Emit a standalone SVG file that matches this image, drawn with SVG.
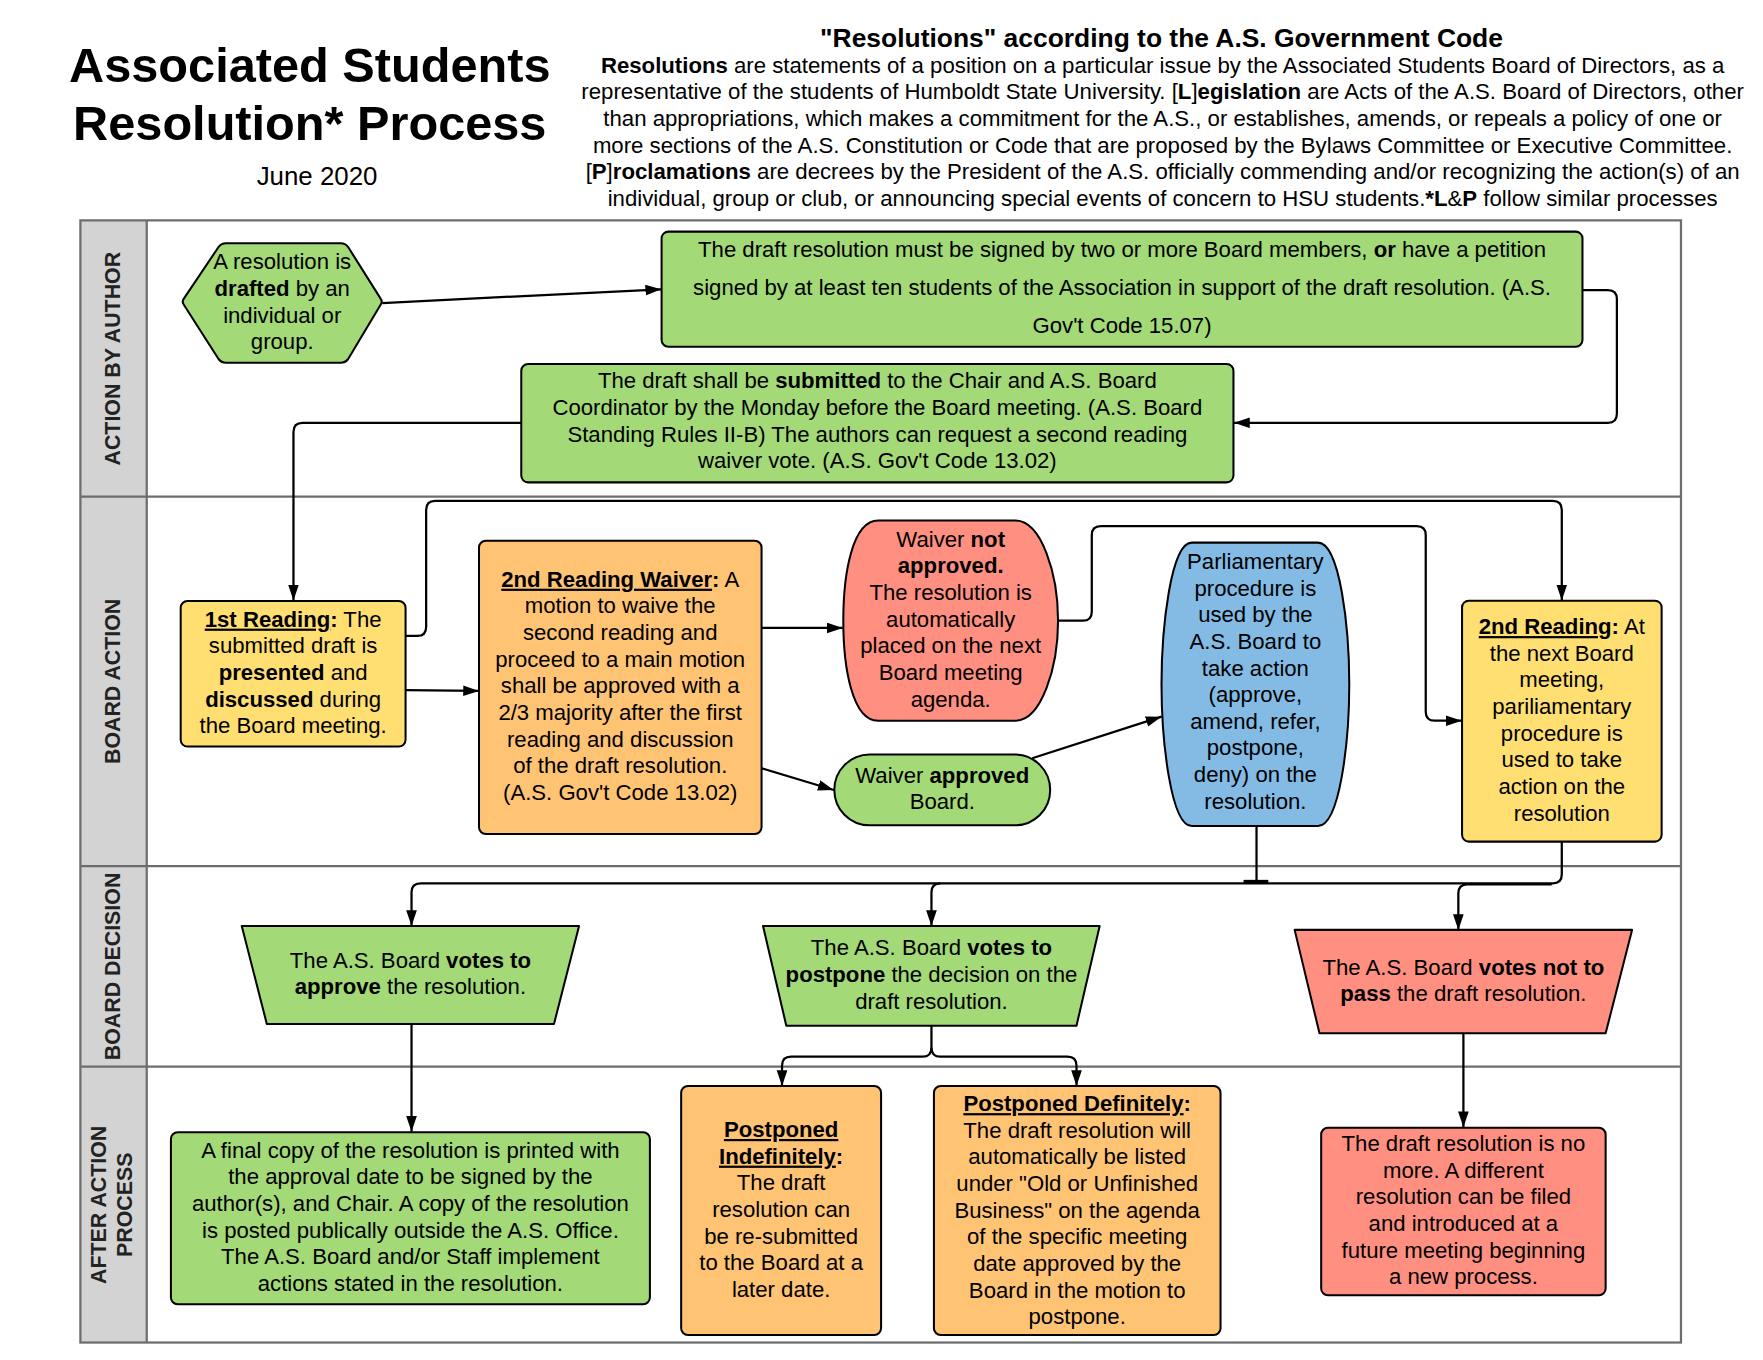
<svg xmlns="http://www.w3.org/2000/svg" width="1763" height="1360" viewBox="0 0 1763 1360">
<style>
  text { font-family: "Liberation Sans", Arial, sans-serif; fill: #000; text-anchor: middle; }
  .t { font-size: 19.7px; }
  .p { font-size: 19.75px; }
  .b { font-weight: bold; }
  .u { text-decoration: underline; }
  .lane { font-size: 19px; font-weight: bold; fill: #222; }
  .shape { stroke: #000; stroke-width: 1.8; stroke-linejoin: round; }
  .green { fill: #A3D977; }
  .yellow { fill: #FFDF71; }
  .orange { fill: #FFC374; }
  .red { fill: #FF8F80; }
  .blue { fill: #83BBE5; }
  .conn { fill: none; stroke: #000; stroke-width: 2; }
  .arr { marker-end: url(#ah); }
  .frame { fill: none; stroke: #6d6d6d; stroke-width: 2; }
</style>
<defs>
  <marker id="ah" markerUnits="userSpaceOnUse" markerWidth="15" markerHeight="10" refX="14" refY="4.75" orient="auto">
    <path d="M0,0 L14,4.75 L0,9.5 Z" fill="#000"/>
  </marker>
</defs>
<rect width="1763" height="1360" fill="#fff"/>
<g transform="scale(1.1244)">
  <!-- Header -->
  <g id="title">
    <text class="b" x="275.5" y="72.6" style="font-size:43.3px">Associated Students</text>
    <text class="b" x="275.5" y="124.5" style="font-size:43.3px">Resolution* Process</text>
    <text x="282" y="164.5" style="font-size:23px">June 2020</text>
  </g>
  <g id="definition">
    <text class="b" x="1033" y="41.5" style="font-size:23.5px">"Resolutions" according to the A.S. Government Code</text>
    <text class="p" x="1034" y="64.6"><tspan class="b">Resolutions</tspan> are statements of a position on a particular issue by the Associated Students Board of Directors, as a</text>
    <text class="p" x="1034" y="88.3">representative of the students of Humboldt State University. [<tspan class="b">L</tspan>]<tspan class="b">egislation</tspan> are Acts of the A.S. Board of Directors, other</text>
    <text class="p" x="1034" y="112">than appropriations, which makes a commitment for the A.S., or establishes, amends, or repeals a policy of one or</text>
    <text class="p" x="1034" y="135.7">more sections of the A.S. Constitution or Code that are proposed by the Bylaws Committee or Executive Committee.</text>
    <text class="p" x="1034" y="159.4">[<tspan class="b">P</tspan>]<tspan class="b">roclamations</tspan> are decrees by the President of the A.S. officially commending and/or recognizing the action(s) of an</text>
    <text class="p" x="1034" y="183.1">individual, group or club, or announcing special events of concern to HSU students.<tspan class="b">*L</tspan>&amp;<tspan class="b">P</tspan> follow similar processes</text>
  </g>

  <!-- Swimlanes -->
  <g id="lanes">
    <rect x="71.5" y="196" width="59" height="998" fill="#D3D3D3"/>
    <rect class="frame" x="71.5" y="196" width="1423.5" height="998"/>
    <line class="frame" x1="130.5" y1="196" x2="130.5" y2="1194"/>
    <line class="frame" x1="71.5" y1="441.7" x2="1495" y2="441.7"/>
    <line class="frame" x1="71.5" y1="770.2" x2="1495" y2="770.2"/>
    <line class="frame" x1="71.5" y1="948.6" x2="1495" y2="948.6"/>
    <text class="lane" transform="translate(106.7,319) rotate(-90)">ACTION BY AUTHOR</text>
    <text class="lane" transform="translate(106.7,606) rotate(-90)">BOARD ACTION</text>
    <text class="lane" transform="translate(106.7,859.5) rotate(-90)">BOARD DECISION</text>
    <text class="lane" transform="translate(94,1071.5) rotate(-90)">AFTER ACTION</text>
    <text class="lane" transform="translate(117,1071.5) rotate(-90)">PROCESS</text>
  </g>

  <!-- Connectors -->
  <g id="connectors">
    <path class="conn arr" d="M340 269.5 L588 257.3"/>
    <path class="conn arr" d="M1407 258 H1430 Q1438 258 1438 266 V368 Q1438 376 1430 376 H1097.5"/>
    <path class="conn arr" d="M463.6 376 H269 Q261 376 261 384 V534"/>
    <path class="conn arr" d="M360.7 565.6 H371 Q379 565.6 379 557.6 V453.5 Q379 445.5 387 445.5 H1381 Q1389 445.5 1389 453.5 V534"/>
    <path class="conn arr" d="M360.7 613.7 L426 614.5"/>
    <path class="conn arr" d="M677.3 558.5 H749.5"/>
    <path class="conn arr" d="M677.3 683.3 L741.5 702.6"/>
    <path class="conn arr" d="M941 552 H963 Q971 552 971 544 V476 Q971 468 979 468 H1260 Q1268 468 1268 476 V633 Q1268 641 1276 641 H1300"/>
    <path class="conn arr" d="M918 674.4 L1033 637.4"/>
    <path class="conn" d="M1117.5 734.7 V785.6"/>
    <path class="conn" d="M1106 784 H1128" style="stroke-width:3"/>
    <path class="conn arr" d="M1389 748.5 V777.6 Q1389 785.6 1381 785.6 H374 Q366 785.6 366 793.6 V823.6"/>
    <path class="conn arr" d="M836.4 785.6 Q828.4 785.6 828.4 793.6 V823.6"/>
    <path class="conn arr" d="M1380 786.5 H1305 Q1297 786.5 1297 794.5 V827"/>
    <path class="conn arr" d="M366 910.7 V1006.5"/>
    <path class="conn arr" d="M828.4 912.2 V931.8 Q828.4 939.8 820.4 939.8 H703.5 Q695.5 939.8 695.5 947.8 V965.9"/>
    <path class="conn arr" d="M828.4 931.8 Q828.4 939.8 836.4 939.8 H949.4 Q957.4 939.8 957.4 947.8 V965.9"/>
    <path class="conn arr" d="M1301.5 919 V1002.5"/>
  </g>

  <!-- Nodes -->
  <g id="n-drafted">
    <path class="shape green" d="M163.5 271 Q161.5 268.3 163.5 265.6 L194.5 219.5 Q197 216.4 201 216.4 H303 Q307 216.4 309.5 219.5 L338.5 265.6 Q340.5 268.3 338.5 271 L309.5 319.5 Q307 322.6 303 322.6 H201 Q197 322.6 194.5 319.5 Z"/>
    <text class="t" x="251" y="239.6">A resolution is</text>
    <text class="t" x="251" y="263.3"><tspan class="b">drafted</tspan> by an</text>
    <text class="t" x="251" y="287">individual or</text>
    <text class="t" x="251" y="310.7">group.</text>
  </g>
  <g id="n-signed">
    <rect class="shape green" x="588.4" y="206" width="819" height="102.3" rx="6"/>
    <text class="t" x="997.9" y="228.4">The draft resolution must be signed by two or more Board members, <tspan class="b">or</tspan> have a petition</text>
    <text class="t" x="997.9" y="262.4">signed by at least ten students of the Association in support of the draft resolution. (A.S.</text>
    <text class="t" x="997.9" y="296.4">Gov't Code 15.07)</text>
  </g>
  <g id="n-submitted">
    <rect class="shape green" x="463.6" y="323.7" width="633.4" height="105.3" rx="6"/>
    <text class="t" x="780.3" y="345.3">The draft shall be <tspan class="b">submitted</tspan> to the Chair and A.S. Board</text>
    <text class="t" x="780.3" y="369">Coordinator by the Monday before the Board meeting. (A.S. Board</text>
    <text class="t" x="780.3" y="392.7">Standing Rules II-B) The authors can request a second reading</text>
    <text class="t" x="780.3" y="416.4">waiver vote. (A.S. Gov't Code 13.02)</text>
  </g>
  <g id="n-first-reading">
    <rect class="shape yellow" x="160.7" y="534.5" width="200" height="129.5" rx="6"/>
    <text class="t" x="260.7" y="557.3"><tspan class="b u">1st Reading</tspan><tspan class="b">:</tspan> The</text>
    <text class="t" x="260.7" y="581">submitted draft is</text>
    <text class="t" x="260.7" y="604.7"><tspan class="b">presented</tspan> and</text>
    <text class="t" x="260.7" y="628.4"><tspan class="b">discussed</tspan> during</text>
    <text class="t" x="260.7" y="652.1">the Board meeting.</text>
  </g>
  <g id="n-waiver">
    <rect class="shape orange" x="426" y="480.9" width="251.3" height="260.8" rx="6"/>
    <text class="t" x="551.6" y="521.8"><tspan class="b u">2nd Reading Waiver</tspan><tspan class="b">:</tspan> A</text>
    <text class="t" x="551.6" y="545.5">motion to waive the</text>
    <text class="t" x="551.6" y="569.2">second reading and</text>
    <text class="t" x="551.6" y="592.9">proceed to a main motion</text>
    <text class="t" x="551.6" y="616.6">shall be approved with a</text>
    <text class="t" x="551.6" y="640.3">2/3 majority after the first</text>
    <text class="t" x="551.6" y="664">reading and discussion</text>
    <text class="t" x="551.6" y="687.7">of the draft resolution.</text>
    <text class="t" x="551.6" y="711.4">(A.S. Gov't Code 13.02)</text>
  </g>
  <g id="n-not-approved">
    <path class="shape red" d="M781 463 H903 C926 463 941 510 941 552 C941 594 926 641 903 641 H781 C758 641 750 594 750 552 C750 510 758 463 781 463 Z"/>
    <text class="t" x="845.5" y="486.3">Waiver <tspan class="b">not</tspan></text>
    <text class="t b" x="845.5" y="510">approved.</text>
    <text class="t" x="845.5" y="533.7">The resolution is</text>
    <text class="t" x="845.5" y="557.4">automatically</text>
    <text class="t" x="845.5" y="581.1">placed on the next</text>
    <text class="t" x="845.5" y="604.8">Board meeting</text>
    <text class="t" x="845.5" y="628.5">agenda.</text>
  </g>
  <g id="n-approved">
    <rect class="shape green" x="742" y="671" width="192" height="63" rx="31.5"/>
    <text class="t" x="838" y="696"><tspan>Waiver </tspan><tspan class="b">approved</tspan></text>
    <text class="t" x="838" y="719.7">Board.</text>
  </g>
  <g id="n-parliamentary">
    <path class="shape blue" d="M1060 482.6 H1172 C1192 482.6 1200 560 1200 608.6 C1200 657 1192 734.7 1172 734.7 H1060 C1041 734.7 1033 657 1033 608.6 C1033 560 1041 482.6 1060 482.6 Z"/>
    <text class="t" x="1116.5" y="506">Parliamentary</text>
    <text class="t" x="1116.5" y="529.7">procedure is</text>
    <text class="t" x="1116.5" y="553.4">used by the</text>
    <text class="t" x="1116.5" y="577.1">A.S. Board to</text>
    <text class="t" x="1116.5" y="600.8">take action</text>
    <text class="t" x="1116.5" y="624.5">(approve,</text>
    <text class="t" x="1116.5" y="648.2">amend, refer,</text>
    <text class="t" x="1116.5" y="671.9">postpone,</text>
    <text class="t" x="1116.5" y="695.6">deny) on the</text>
    <text class="t" x="1116.5" y="719.3">resolution.</text>
  </g>
  <g id="n-second-reading">
    <rect class="shape yellow" x="1300.3" y="534.2" width="177.5" height="214.3" rx="6"/>
    <text class="t" x="1389" y="563.9"><tspan class="b u">2nd Reading</tspan><tspan class="b">:</tspan> At</text>
    <text class="t" x="1389" y="587.6">the next Board</text>
    <text class="t" x="1389" y="611.3">meeting,</text>
    <text class="t" x="1389" y="635">pariliamentary</text>
    <text class="t" x="1389" y="658.7">procedure is</text>
    <text class="t" x="1389" y="682.4">used to take</text>
    <text class="t" x="1389" y="706.1">action on the</text>
    <text class="t" x="1389" y="729.8">resolution</text>
  </g>
  <g id="n-vote-approve">
    <path class="shape green" d="M215 823.6 H515 L492.7 910.7 H237.3 Z"/>
    <text class="t" x="365" y="860.6">The A.S. Board <tspan class="b">votes to</tspan></text>
    <text class="t" x="365" y="884.3"><tspan class="b">approve</tspan> the resolution.</text>
  </g>
  <g id="n-vote-postpone">
    <path class="shape green" d="M678.6 823.6 H978 L957.4 912.2 H699.3 Z"/>
    <text class="t" x="828.4" y="849.7">The A.S. Board <tspan class="b">votes to</tspan></text>
    <text class="t" x="828.4" y="873.4"><tspan class="b">postpone</tspan> the decision on the</text>
    <text class="t" x="828.4" y="897.1">draft resolution.</text>
  </g>
  <g id="n-vote-not-pass">
    <path class="shape red" d="M1151.4 827 H1451.5 L1428 919 H1173.5 Z"/>
    <text class="t" x="1301.5" y="866.8">The A.S. Board <tspan class="b">votes not to</tspan></text>
    <text class="t" x="1301.5" y="890.5"><tspan class="b">pass</tspan> the draft resolution.</text>
  </g>
  <g id="n-final-copy">
    <rect class="shape green" x="152" y="1007" width="426" height="153" rx="6"/>
    <text class="t" x="365" y="1029.7">A final copy of the resolution is printed with</text>
    <text class="t" x="365" y="1053.4">the approval date to be signed by the</text>
    <text class="t" x="365" y="1077.1">author(s), and Chair. A copy of the resolution</text>
    <text class="t" x="365" y="1100.8">is posted publically outside the A.S. Office.</text>
    <text class="t" x="365" y="1124.5">The A.S. Board and/or Staff implement</text>
    <text class="t" x="365" y="1148.2">actions stated in the resolution.</text>
  </g>
  <g id="n-indefinitely">
    <rect class="shape orange" x="605.8" y="965.9" width="177.8" height="221.4" rx="6"/>
    <text class="t" x="694.7" y="1011.2"><tspan class="b u">Postponed</tspan></text>
    <text class="t" x="694.7" y="1034.9"><tspan class="b u">Indefinitely</tspan><tspan class="b">:</tspan></text>
    <text class="t" x="694.7" y="1058.6">The draft</text>
    <text class="t" x="694.7" y="1082.3">resolution can</text>
    <text class="t" x="694.7" y="1106">be re-submitted</text>
    <text class="t" x="694.7" y="1129.7">to the Board at a</text>
    <text class="t" x="694.7" y="1153.4">later date.</text>
  </g>
  <g id="n-definitely">
    <rect class="shape orange" x="830.6" y="965.9" width="254.9" height="221.4" rx="6"/>
    <text class="t" x="958" y="988.2"><tspan class="b u">Postponed Definitely</tspan><tspan class="b">:</tspan></text>
    <text class="t" x="958" y="1011.9">The draft resolution will</text>
    <text class="t" x="958" y="1035.6">automatically be listed</text>
    <text class="t" x="958" y="1059.3">under "Old or Unfinished</text>
    <text class="t" x="958" y="1083">Business" on the agenda</text>
    <text class="t" x="958" y="1106.7">of the specific meeting</text>
    <text class="t" x="958" y="1130.4">date approved by the</text>
    <text class="t" x="958" y="1154.1">Board in the motion to</text>
    <text class="t" x="958" y="1177.8">postpone.</text>
  </g>
  <g id="n-no-more">
    <rect class="shape red" x="1175" y="1003" width="253" height="149" rx="6"/>
    <text class="t" x="1301.5" y="1023.7">The draft resolution is no</text>
    <text class="t" x="1301.5" y="1047.4">more. A different</text>
    <text class="t" x="1301.5" y="1071.1">resolution can be filed</text>
    <text class="t" x="1301.5" y="1094.8">and introduced at a</text>
    <text class="t" x="1301.5" y="1118.5">future meeting beginning</text>
    <text class="t" x="1301.5" y="1142.2">a new process.</text>
  </g>
</g>
</svg>
